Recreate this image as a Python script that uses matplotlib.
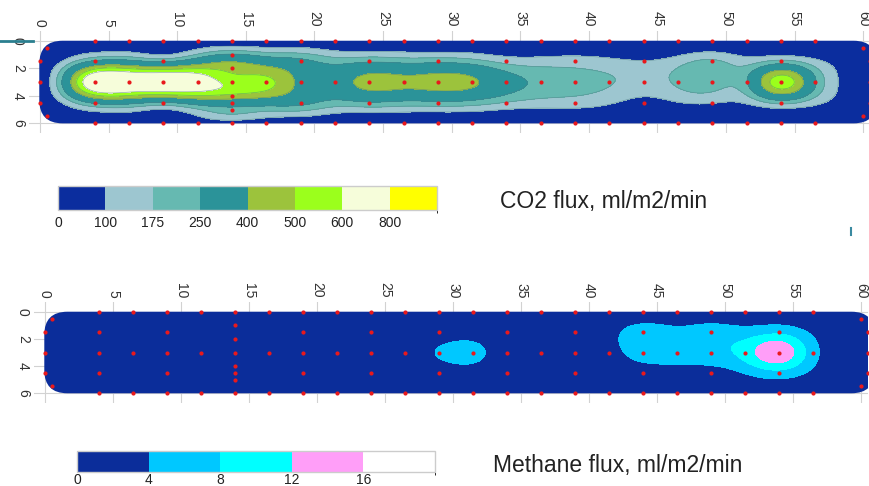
import numpy as np
import matplotlib
matplotlib.use("Agg")
import matplotlib.pyplot as plt
from matplotlib.colors import ListedColormap, BoundaryNorm
from matplotlib.cm import ScalarMappable
from matplotlib.patches import FancyBboxPatch
from matplotlib.lines import Line2D

plt.rcParams['font.family'] = ['Liberation Sans', 'DejaVu Sans']

# measurement points: main columns along the strip (rows y=0, y=3, y=6)
grid_x = [4, 6.5, 9, 11.5, 14, 16.5, 19, 21.5, 24, 26.5, 29, 31.5,
          34, 36.5, 39, 41.5, 44, 46.5, 49, 51.5, 54, 56.5]
# sparser columns (rows y=1.5 and y=4.5)
side_x = [0, 4, 9, 19, 24, 29, 34, 39, 44, 49, 54, 60.5]
# extra points: x=14 profile, corners and the two ends of the middle row
extra_x = [14, 14, 14, 14, 14, 0.5, 0.5, 60, 60, 0, 60.5]
extra_y = [1, 2, 4, 4.5, 5, 0.5, 5.5, 0.5, 5.5, 3, 3]

# CO2 flux, ml/m2/min
co2_y0 = [50, 50, 45, 50, 50, 45, 40, 30, 20, 25, 20, 25, 15, 15, 15, 15, 10, 15, 20, 20, 25, 25]
co2_y3 = [740, 760, 760, 700, 560, 530, 370, 340, 440, 430, 450, 420, 300, 230, 200, 180, 150, 190, 220, 245, 560, 260]
co2_y6 = [50, 50, 45, 50, 50, 45, 40, 30, 20, 25, 20, 25, 15, 15, 15, 15, 10, 10, 15, 15, 20, 25]
co2_y15 = [40, 270, 240, 280, 240, 230, 150, 140, 105, 190, 200, 40]
co2_y45 = [40, 270, 240, 280, 240, 230, 170, 140, 70, 105, 200, 40]
co2_extra = [260, 470, 470, 320, 220, 30, 30, 30, 30, 40, 40]

# Methane flux, ml/m2/min
ch4_y0 = [1.5, 1.5, 1.5, 1.5, 1.5, 1.5, 1.5, 1.5, 1.5, 1.5, 1.5, 1.5, 1.5, 1.5, 1.5, 1.5, 1.5, 1.5, 1.5, 1.5, 1.5, 1.5]
ch4_y3 = [2, 2, 2, 2, 2, 2, 2, 1.5, 1.5, 2, 4.3, 4.9, 2, 1.5, 1.5, 2, 6.5, 6.2, 6.8, 9.8, 15, 5.5]
ch4_y6 = [1.5, 1.5, 1.5, 1.5, 1.5, 1.5, 1.5, 1.5, 1.5, 1.5, 1.5, 1.5, 1.5, 1.5, 1.5, 1.5, 1.5, 1.5, 1.5, 1.5, 1.5, 1.5]
ch4_y15 = [1, 1.5, 1.5, 1.5, 1.5, 2, 1.5, 1.5, 6, 6, 7, 1]
ch4_y45 = [1, 1.5, 1.5, 1.5, 1.5, 2, 1.5, 1.5, 1.5, 2.5, 6.5, 1]
ch4_extra = [1.5, 1.5, 1.5, 1.5, 1.5, 1, 1, 1, 1, 1, 1]

co2_levels = [0, 100, 175, 250, 400, 500, 600, 800, 1000]
co2_colors = ['#0b2d9e', '#9dc6d0', '#66b9b1', '#2b9399', '#9cc33c', '#9bff1c', '#f6fdda', '#ffff00']
ch4_levels = [0, 4, 8, 12, 16, 20]
ch4_colors = ['#0b2d9a', '#00c8ff', '#00ffff', '#ff9ef8', '#ffffff']

W, H = 870, 486


def px_box(l, t, r, b):
    return [l / W, 1 - b / H, (r - l) / W, (b - t) / H]


def all_points(y0, y3, y6, y15, y45, extra):
    xs = grid_x * 3 + side_x * 2 + extra_x
    ys = [0] * len(grid_x) + [3] * len(grid_x) + [6] * len(grid_x) \
        + [1.5] * len(side_x) + [4.5] * len(side_x) + extra_y
    zs = y0 + y3 + y6 + y15 + y45 + extra
    return np.array(xs, float), np.array(ys, float), np.array(zs, float)


def rbf_field(px, py, pz, gx, gy, sx=2.5, sy=1.5, eps=1.0):
    P = np.column_stack([px / sx, py / sy])
    d2 = ((P[:, None, :] - P[None, :, :]) ** 2).sum(-1)
    A = np.exp(-d2 / eps ** 2) + 1e-4 * np.eye(len(P))
    base = pz.mean()
    w = np.linalg.solve(A, pz - base)
    GX, GY = np.meshgrid(gx, gy)
    G = np.column_stack([GX.ravel() / sx, GY.ravel() / sy])
    dg2 = ((G[:, None, :] - P[None, :, :]) ** 2).sum(-1)
    Z = base + np.exp(-dg2 / eps ** 2) @ w
    return GX, GY, Z.reshape(GX.shape)


def draw_map(ax, px, py, pz, levels, colors, line_color):
    gx = np.linspace(-0.5, 61.5, 560)
    gy = np.linspace(-0.3, 6.3, 120)
    GX, GY, Z = rbf_field(px, py, pz, gx, gy)
    Z = np.clip(Z, levels[0] + 1e-6, levels[-1] - 1e-6)
    shape = FancyBboxPatch((-0.05, 0), 61.05, 6, boxstyle="round,pad=0,rounding_size=1.7",
                           transform=ax.transData, facecolor='none', edgecolor='none')
    cs = ax.contourf(GX, GY, Z, levels=levels, colors=colors, zorder=2)
    cs.set_clip_path(shape)
    if line_color:
        cl = ax.contour(GX, GY, Z, levels=levels[1:-1], colors=line_color,
                        linewidths=0.5, alpha=0.6, zorder=3)
        cl.set_clip_path(shape)
    ax.scatter(px, py, s=9, color='#e8191c', zorder=4, linewidths=0)
    ax.set_xlim(-0.8, 60.5)
    ax.set_ylim(6.7, -0.7)
    ax.set_xticks([0, 5, 10, 15, 20, 25, 30, 35, 40, 45, 50, 55, 60])
    ax.set_yticks([0, 2, 4, 6])
    ax.xaxis.tick_top()
    ax.tick_params(length=0, labelsize=10, labelcolor='#333333', pad=3)
    for lab in ax.get_xticklabels():
        lab.set_rotation(-90)
    for lab in ax.get_yticklabels():
        lab.set_rotation(-90)
        lab.set_va('center')
    ax.grid(True, color='#d2d2d2', lw=0.8)
    ax.set_axisbelow(True)
    for s in ax.spines.values():
        s.set_visible(False)


def draw_bar(fig, box, levels, colors, label_pad):
    cax = fig.add_axes(box)
    cmap = ListedColormap(colors)
    norm = BoundaryNorm(levels, cmap.N)
    cb = fig.colorbar(ScalarMappable(norm=norm, cmap=cmap), cax=cax,
                      orientation='horizontal', spacing='uniform', ticks=levels[:-1])
    cb.outline.set_edgecolor('#cccccc')
    cb.outline.set_linewidth(1)
    cax.tick_params(length=0, labelsize=10, labelcolor='#222222', pad=label_pad)
    return cb


fig = plt.figure(figsize=(W / 100, H / 100), dpi=100)

ax1 = fig.add_axes(px_box(29.0, 31.1, 870.1, 133.0))
x1, y1, z1 = all_points(co2_y0, co2_y3, co2_y6, co2_y15, co2_y45, co2_extra)
draw_map(ax1, x1, y1, z1, co2_levels, co2_colors, '#4f7c84')

ax2 = fig.add_axes(px_box(34.1, 302.2, 867.8, 402.8))
x2, y2, z2 = all_points(ch4_y0, ch4_y3, ch4_y6, ch4_y15, ch4_y45, ch4_extra)
draw_map(ax2, x2, y2, z2, ch4_levels, ch4_colors, None)

draw_bar(fig, px_box(58, 186, 437, 210), co2_levels, co2_colors, 4)
draw_bar(fig, px_box(77, 451, 435, 472), ch4_levels, ch4_colors, 1)

fig.text(500 / W, 1 - 201 / H, "CO2 flux, ml/m2/min", fontsize=16.5, color='#222222',
         ha='left', va='center')
fig.text(493 / W, 1 - 465 / H, "Methane flux, ml/m2/min", fontsize=16.5, color='#222222',
         ha='left', va='center')

# slide decorations
fig.add_artist(Line2D([0, 33 / W], [1 - 41 / H, 1 - 41 / H], color='#2a7f8f', lw=2))
fig.add_artist(Line2D([851 / W, 851 / W], [1 - 228 / H, 1 - 235 / H], color='#3a8aa0', lw=1.5))

fig.savefig("out.png", dpi=100)
